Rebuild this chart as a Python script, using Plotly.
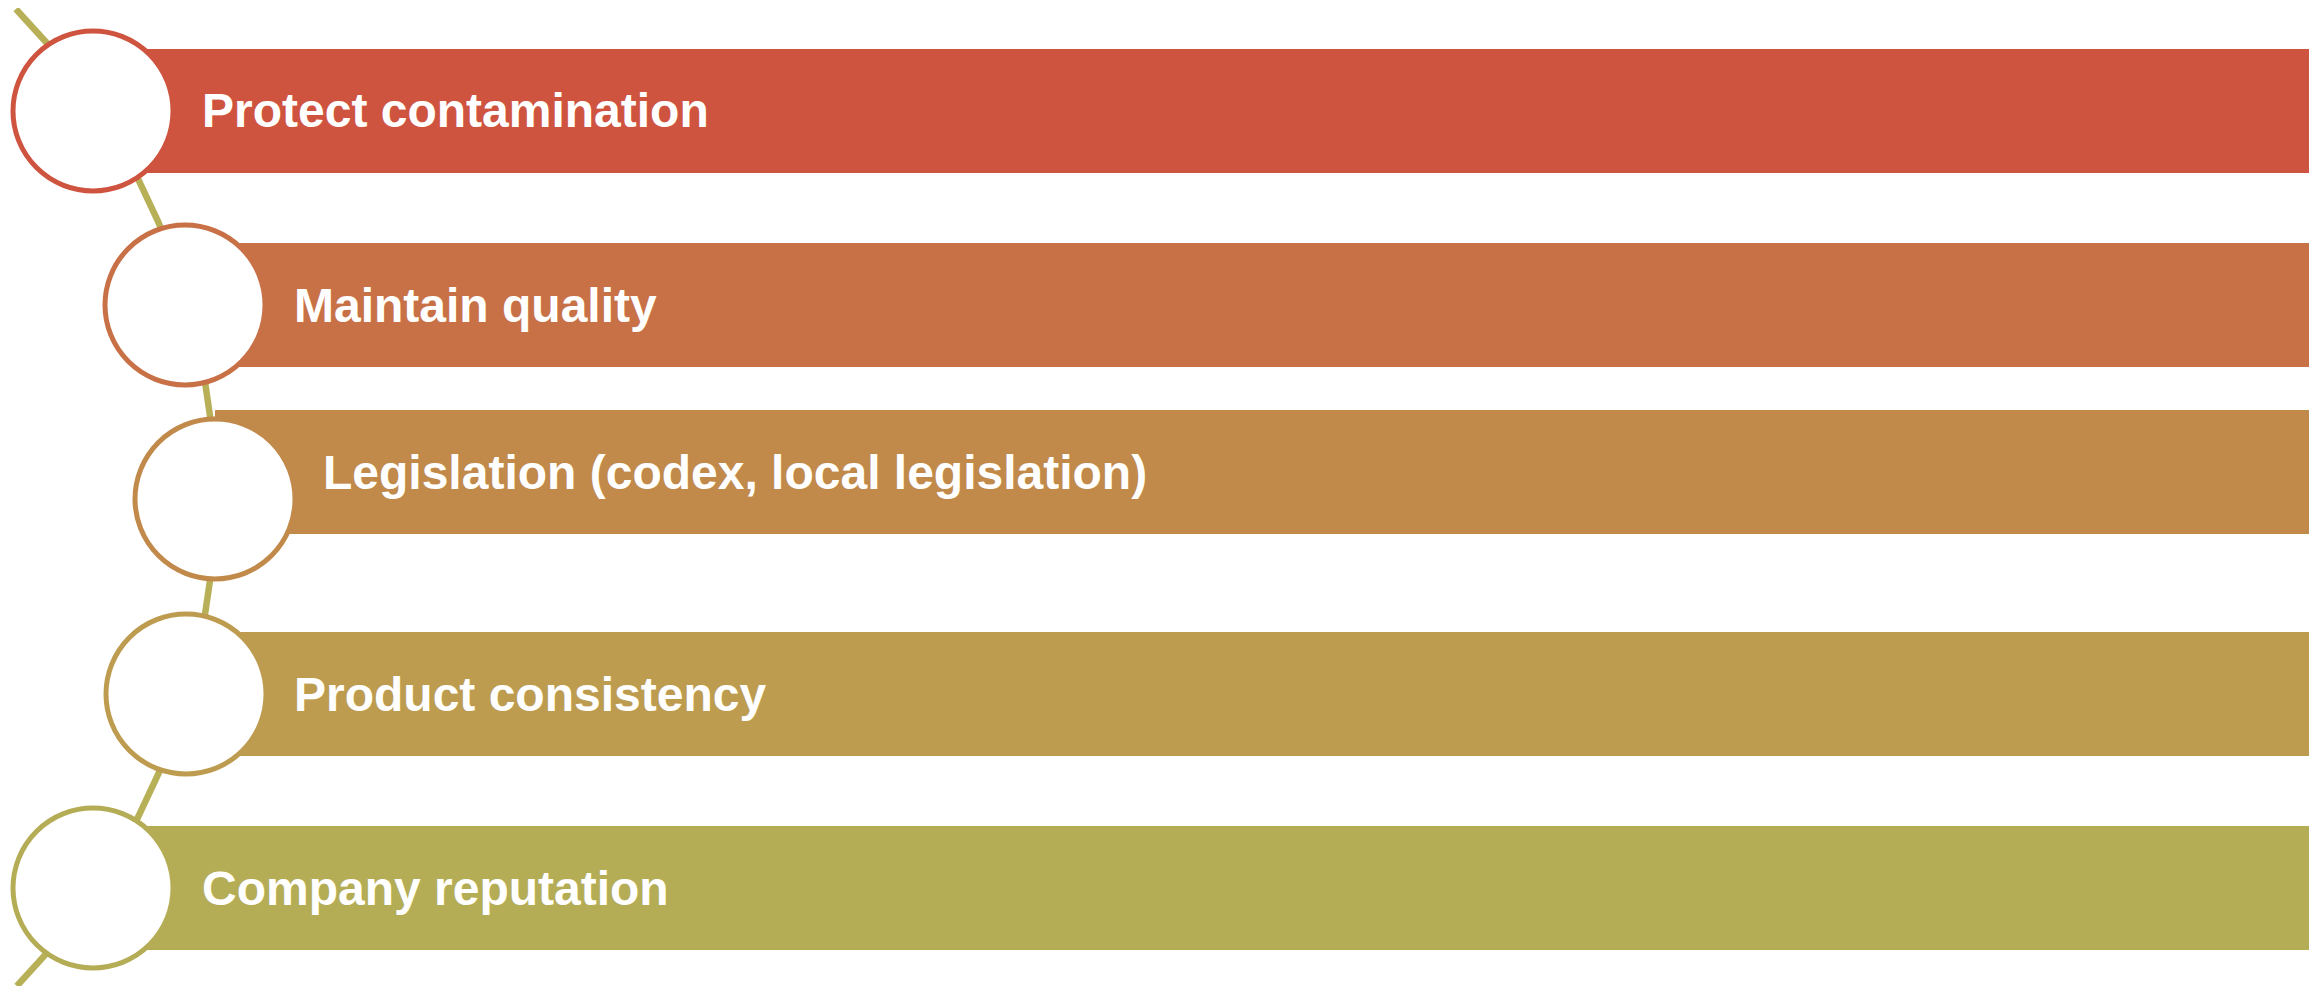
import numpy as np
import plotly.graph_objects as go

# ---- content ----
labels = [
    "Protect contamination",
    "Maintain quality",
    "Legislation (codex, local legislation)",
    "Product consistency",
    "Company reputation",
]
colors = ["#CF5440", "#C87146", "#C18A4A", "#BD9C50", "#B5AD55"]

# ---- geometry (pixel space of the window) ----
W, H = 2321, 994
PAD = 8  # browser body margin
bar_centers = [110.7, 305.0, 472.0, 694.0, 888.0]
bar_height = 124
bar_right = 2309
circle_cx = [93, 185, 215, 186, 93]
circle_cy = [111, 305, 499, 694, 888]
circle_r = 80
text_x = [200, 292, 321, 292, 200]

fig = go.Figure()

# connecting arc (big circle far to the left)
arc_cx, arc_cy, arc_r = -485.0, 498.0, 700.0
ys = np.linspace(9, 986, 300)
xs = arc_cx + np.sqrt(arc_r ** 2 - (ys - arc_cy) ** 2)
fig.add_trace(go.Scatter(x=xs, y=ys, mode="lines",
                         line=dict(color="#B7B057", width=6.5),
                         hoverinfo="skip", showlegend=False, cliponaxis=False))

# bars
fig.add_trace(go.Bar(
    orientation="h",
    y=bar_centers,
    base=circle_cx,
    x=[bar_right - c for c in circle_cx],
    width=[bar_height] * len(labels),
    marker=dict(color=colors, line=dict(width=0)),
    hoverinfo="skip", showlegend=False,
))

# circles
for cx, cy, col in zip(circle_cx, circle_cy, colors):
    fig.add_shape(type="circle", xref="x", yref="y",
                  x0=cx - circle_r, x1=cx + circle_r,
                  y0=cy - circle_r, y1=cy + circle_r,
                  fillcolor="white", line=dict(color=col, width=5),
                  layer="above")

# labels
for lbl, tx, ty in zip(labels, text_x, bar_centers):
    fig.add_annotation(x=tx, y=ty, xref="x", yref="y", text=lbl,
                       showarrow=False, xanchor="left", yanchor="middle",
                       font=dict(family="Liberation Sans, Arial, sans-serif",
                                 size=48, color="white", weight="bold"))

fig.update_layout(
    width=W - 2 * PAD, height=H - 2 * PAD,
    margin=dict(l=0, r=0, t=0, b=0),
    paper_bgcolor="white", plot_bgcolor="white",
    xaxis=dict(range=[PAD, W - PAD], visible=False, fixedrange=True),
    yaxis=dict(range=[H - PAD, PAD], visible=False, fixedrange=True),
    bargap=0,
)

fig.write_html("out.html", config={"displayModeBar": False})
